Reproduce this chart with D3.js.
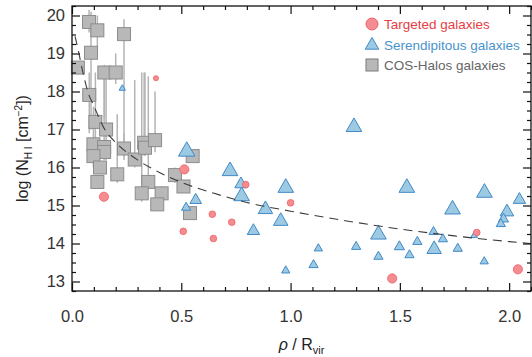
<!DOCTYPE html>
<html>
<head>
<meta charset="utf-8">
<script src="https://cdn.jsdelivr.net/npm/d3@7"></script>
<style>
  html, body { margin: 0; padding: 0; background: #fff; }
  svg { display: block; font-family: "Liberation Sans", Arial, Helvetica, sans-serif; }
</style>
</head>
<body>
<svg id="chart" width="532" height="357"></svg>
<script>
// targeted galaxies (red circles)
const rhoTargeted = [0.146, 0.384, 0.514, 0.509, 0.642, 0.647, 0.731, 0.795, 1.0, 1.465, 1.852, 2.04]
const logNTargeted = [15.23, 18.35, 15.95, 14.32, 14.77, 14.13, 14.56, 15.55, 15.07, 13.08, 14.29, 13.32]
const sizeTargeted = [1.0, 0.55, 1.0, 0.72, 0.72, 0.72, 0.72, 0.72, 0.72, 1.0, 0.72, 1.0]

// serendipitous galaxies (blue triangles)
const rhoSerend = [0.23, 0.525, 0.723, 0.566, 0.522, 0.773, 0.776, 0.978, 0.885, 0.955, 0.83, 0.978,
  1.105, 1.127, 1.29, 1.532, 1.887, 1.741, 2.047, 1.99, 1.974, 1.962, 1.402, 1.3, 1.402, 1.498,
  1.544, 1.58, 1.654, 1.657, 1.697, 1.765, 1.84, 1.886]
const logNSerend = [18.09, 16.45, 15.93, 15.16, 14.96, 15.58, 15.27, 15.49, 14.92, 14.61, 14.35, 13.3,
  13.45, 13.88, 17.09, 15.49, 15.36, 14.92, 15.17, 14.85, 14.66, 14.53, 14.26, 13.93, 13.67, 13.93,
  13.71, 14.06, 14.32, 13.87, 14.13, 13.88, 14.22, 13.54]
const sizeSerend = [0.38, 1.0, 0.95, 0.7, 0.56, 0.75, 0.95, 0.95, 0.88, 0.88, 0.75, 0.5,
  0.56, 0.5, 0.95, 0.95, 0.95, 0.95, 0.75, 0.82, 0.62, 0.56, 0.95, 0.56, 0.56, 0.62,
  0.56, 0.56, 0.56, 0.88, 0.56, 0.56, 0.4, 0.5]

// COS-Halos galaxies (grey squares) with error range
const rhoCos = [0.027, 0.078, 0.116, 0.087, 0.238, 0.148, 0.2, 0.079, 0.107, 0.156, 0.098, 0.147, 0.147,
  0.098, 0.128, 0.116, 0.207, 0.238, 0.287, 0.33, 0.334, 0.38, 0.349, 0.319, 0.41, 0.39, 0.471, 0.51, 0.552, 0.54]
const logNCos = [18.63, 19.83, 19.61, 19.02, 19.51, 18.5, 18.5, 17.91, 17.2, 17.0, 16.61, 16.54, 16.41,
  16.3, 16.0, 15.62, 15.82, 16.5, 16.21, 16.65, 16.52, 16.72, 15.62, 15.32, 15.32, 15.03, 15.8, 15.5, 16.3, 14.8]
const logNCosLo = [18.45, 19.55, 19.1, 17.0, 16.2, 17.3, 18.2, 16.9, 16.6, 16.2, 16.0, 16.4, 16.2,
  16.1, 15.9, 15.5, 15.6, 16.3, 16.0, 16.3, 16.3, 16.4, 15.5, 15.1, 15.1, 14.9, 15.6, 15.35, 16.2, 14.7]
const logNCosHi = [18.8, 20.15, 20.0, 20.1, 19.9, 18.7, 19.0, 18.5, 18.5, 18.5, 17.6, 18.5, 16.6,
  16.5, 16.1, 15.7, 17.4, 16.9, 18.3, 18.5, 18.5, 18.0, 18.4, 18.5, 15.5, 15.2, 16.0, 15.65, 16.4, 14.9]

// dashed model curve
const curveRho = [0.014, 0.03, 0.05, 0.075, 0.1, 0.15, 0.2, 0.3, 0.4, 0.5, 0.65, 0.8, 1.0, 1.25, 1.5, 1.75, 2.0, 2.1]
const curveLogN = [19.45, 19.05, 18.5, 17.95, 17.62, 17.0, 16.66, 16.2, 15.87, 15.61, 15.32, 15.08, 14.85, 14.6, 14.38, 14.2, 14.05, 14.0]

const xMajor = [0, 0.5, 1.0, 1.5, 2.0]
const yMajor = [13, 14, 15, 16, 17, 18, 19, 20]

const legendLabels = ['Targeted galaxies', 'Serendipitous galaxies', 'COS-Halos galaxies']

const svg = d3.select('#chart')
const plotL = 72
const plotR = 531
const plotT = 6
const plotB = 291

const x = d3.scaleLinear().domain([0, 2.1]).range([plotL, plotR])
const y = d3.scaleLinear().domain([12.75, 20.25]).range([plotB, plotT])

const xMinor = d3.range(0, 2.11, 0.1).filter(v => Math.abs(v * 2 - Math.round(v * 2)) > 0.01)
const yMinor = d3.range(12.75, 20.26, 0.25).filter(v => Math.abs(v - Math.round(v)) > 0.01)

const circleR = d3.scaleLinear().domain([0, 1]).range([0, 4.6])
const triW = d3.scaleLinear().domain([0, 1]).range([0, 16.5])

// error bars
svg.append('g')
  .selectAll('line')
  .data(rhoCos.map((r, i) => ({ r, lo: logNCosLo[i], hi: logNCosHi[i] })))
  .enter()
  .append('line')
  .attr('x1', d => x(d.r))
  .attr('x2', d => x(d.r))
  .attr('y1', d => y(d.lo))
  .attr('y2', d => y(d.hi))
  .attr('stroke', '#b4b4b4')
  .attr('stroke-width', 1.5)

// squares
const sq = 13
svg.append('g')
  .selectAll('rect')
  .data(rhoCos.map((r, i) => ({ r, v: logNCos[i] })))
  .enter()
  .append('rect')
  .attr('x', d => x(d.r) - sq / 2)
  .attr('y', d => y(d.v) - sq / 2)
  .attr('width', sq)
  .attr('height', sq)
  .attr('fill', '#b8b8b8')
  .attr('stroke', '#8c8c8c')
  .attr('stroke-width', 1)

function triPath (cx, cy, w) {
  const h = w * 0.87
  return `M${cx},${cy - h * 0.6}L${cx + w / 2},${cy + h * 0.4}L${cx - w / 2},${cy + h * 0.4}Z`
}

// triangles
svg.append('g')
  .selectAll('path')
  .data(rhoSerend.map((r, i) => ({ r, v: logNSerend[i], s: sizeSerend[i] })))
  .enter()
  .append('path')
  .attr('d', d => triPath(x(d.r), y(d.v), triW(d.s)))
  .attr('fill', '#9dcae3')
  .attr('stroke', '#4189c7')
  .attr('stroke-width', 1)

// circles
svg.append('g')
  .selectAll('circle')
  .data(rhoTargeted.map((r, i) => ({ r, v: logNTargeted[i], s: sizeTargeted[i] })))
  .enter()
  .append('circle')
  .attr('cx', d => x(d.r))
  .attr('cy', d => y(d.v))
  .attr('r', d => circleR(d.s))
  .attr('fill', '#f58c8f')
  .attr('stroke', '#ee6067')
  .attr('stroke-width', 0.8)

// model curve
const line = d3.line()
  .x(d => x(d[0]))
  .y(d => y(d[1]))
  .curve(d3.curveMonotoneX)
svg.append('path')
  .datum(curveRho.map((r, i) => [r, curveLogN[i]]))
  .attr('d', line)
  .attr('fill', 'none')
  .attr('stroke', '#3a3a3a')
  .attr('stroke-width', 1.1)
  .attr('stroke-dasharray', '9,6')

// axes, ticks pointing inward
function styleAxis (g) {
  g.select('.domain').remove()
  g.selectAll('.tick line').attr('stroke', '#111').attr('stroke-width', 1.2)
  g.selectAll('.tick text').attr('fill', '#333').style('font-size', '16.5px')
}

svg.append('g').attr('transform', `translate(0,${plotB})`)
  .call(d3.axisBottom(x).tickValues(xMajor).tickSize(-8).tickPadding(19).tickFormat(d3.format('.1f')))
  .call(styleAxis)
svg.append('g').attr('transform', `translate(0,${plotB})`)
  .call(d3.axisBottom(x).tickValues(xMinor).tickSize(-4).tickFormat(''))
  .call(styleAxis)
svg.append('g').attr('transform', `translate(0,${plotT})`)
  .call(d3.axisTop(x).tickValues(xMajor).tickSize(-8).tickFormat(''))
  .call(styleAxis)
svg.append('g').attr('transform', `translate(0,${plotT})`)
  .call(d3.axisTop(x).tickValues(xMinor).tickSize(-4).tickFormat(''))
  .call(styleAxis)

svg.append('g').attr('transform', `translate(${plotL},0)`)
  .call(d3.axisLeft(y).tickValues(yMajor).tickSize(-8).tickPadding(7).tickFormat(d3.format('d')))
  .call(styleAxis)
svg.append('g').attr('transform', `translate(${plotL},0)`)
  .call(d3.axisLeft(y).tickValues(yMinor).tickSize(-4).tickFormat(''))
  .call(styleAxis)
svg.append('g').attr('transform', `translate(${plotR},0)`)
  .call(d3.axisRight(y).tickValues(yMajor).tickSize(-8).tickFormat(''))
  .call(styleAxis)
svg.append('g').attr('transform', `translate(${plotR},0)`)
  .call(d3.axisRight(y).tickValues(yMinor).tickSize(-4).tickFormat(''))
  .call(styleAxis)

// frame
svg.append('rect')
  .attr('x', plotL)
  .attr('y', plotT)
  .attr('width', plotR - plotL)
  .attr('height', plotB - plotT)
  .attr('fill', 'none')
  .attr('stroke', '#111')
  .attr('stroke-width', 1.3)

// axis labels
const xl = svg.append('text')
  .attr('x', (plotL + plotR) / 2)
  .attr('y', 350)
  .attr('text-anchor', 'middle')
  .attr('fill', '#222')
  .style('font-size', '16px')
xl.append('tspan').text('ρ').style('font-style', 'italic')
xl.append('tspan').text(' / R')
xl.append('tspan').text('vir').attr('dy', 4).style('font-size', '11px')

const yl = svg.append('text')
  .attr('transform', `translate(28,${(plotT + plotB) / 2}) rotate(-90)`)
  .attr('text-anchor', 'middle')
  .attr('fill', '#222')
  .style('font-size', '16px')
yl.append('tspan').text('log (N')
yl.append('tspan').text('H I').attr('dy', 4).style('font-size', '10px')
yl.append('tspan').text(' [cm').attr('dy', -4)
yl.append('tspan').text('−2').attr('dy', -6).style('font-size', '10px')
yl.append('tspan').text('])').attr('dy', 6)

// legend
const legendColors = ['#e53e44', '#4a93cc', '#666666']
const lg = svg.append('g')
lg.append('circle').attr('cx', 372).attr('cy', 24).attr('r', 6)
  .attr('fill', '#f58c8f').attr('stroke', '#ee6067').attr('stroke-width', 1)
lg.append('path').attr('d', triPath(372, 44.5, 13.5))
  .attr('fill', '#9dcae3').attr('stroke', '#4189c7').attr('stroke-width', 1)
lg.append('rect').attr('x', 366).attr('y', 59).attr('width', 12).attr('height', 12)
  .attr('fill', '#b8b8b8').attr('stroke', '#7a7a7a').attr('stroke-width', 1)
lg.selectAll('text')
  .data(legendLabels)
  .enter()
  .append('text')
  .attr('x', 384)
  .attr('y', (d, i) => 29 + i * 20.5)
  .attr('fill', (d, i) => legendColors[i])
  .style('font-size', '13.5px')
  .text(d => d)
</script>
</body>
</html>
